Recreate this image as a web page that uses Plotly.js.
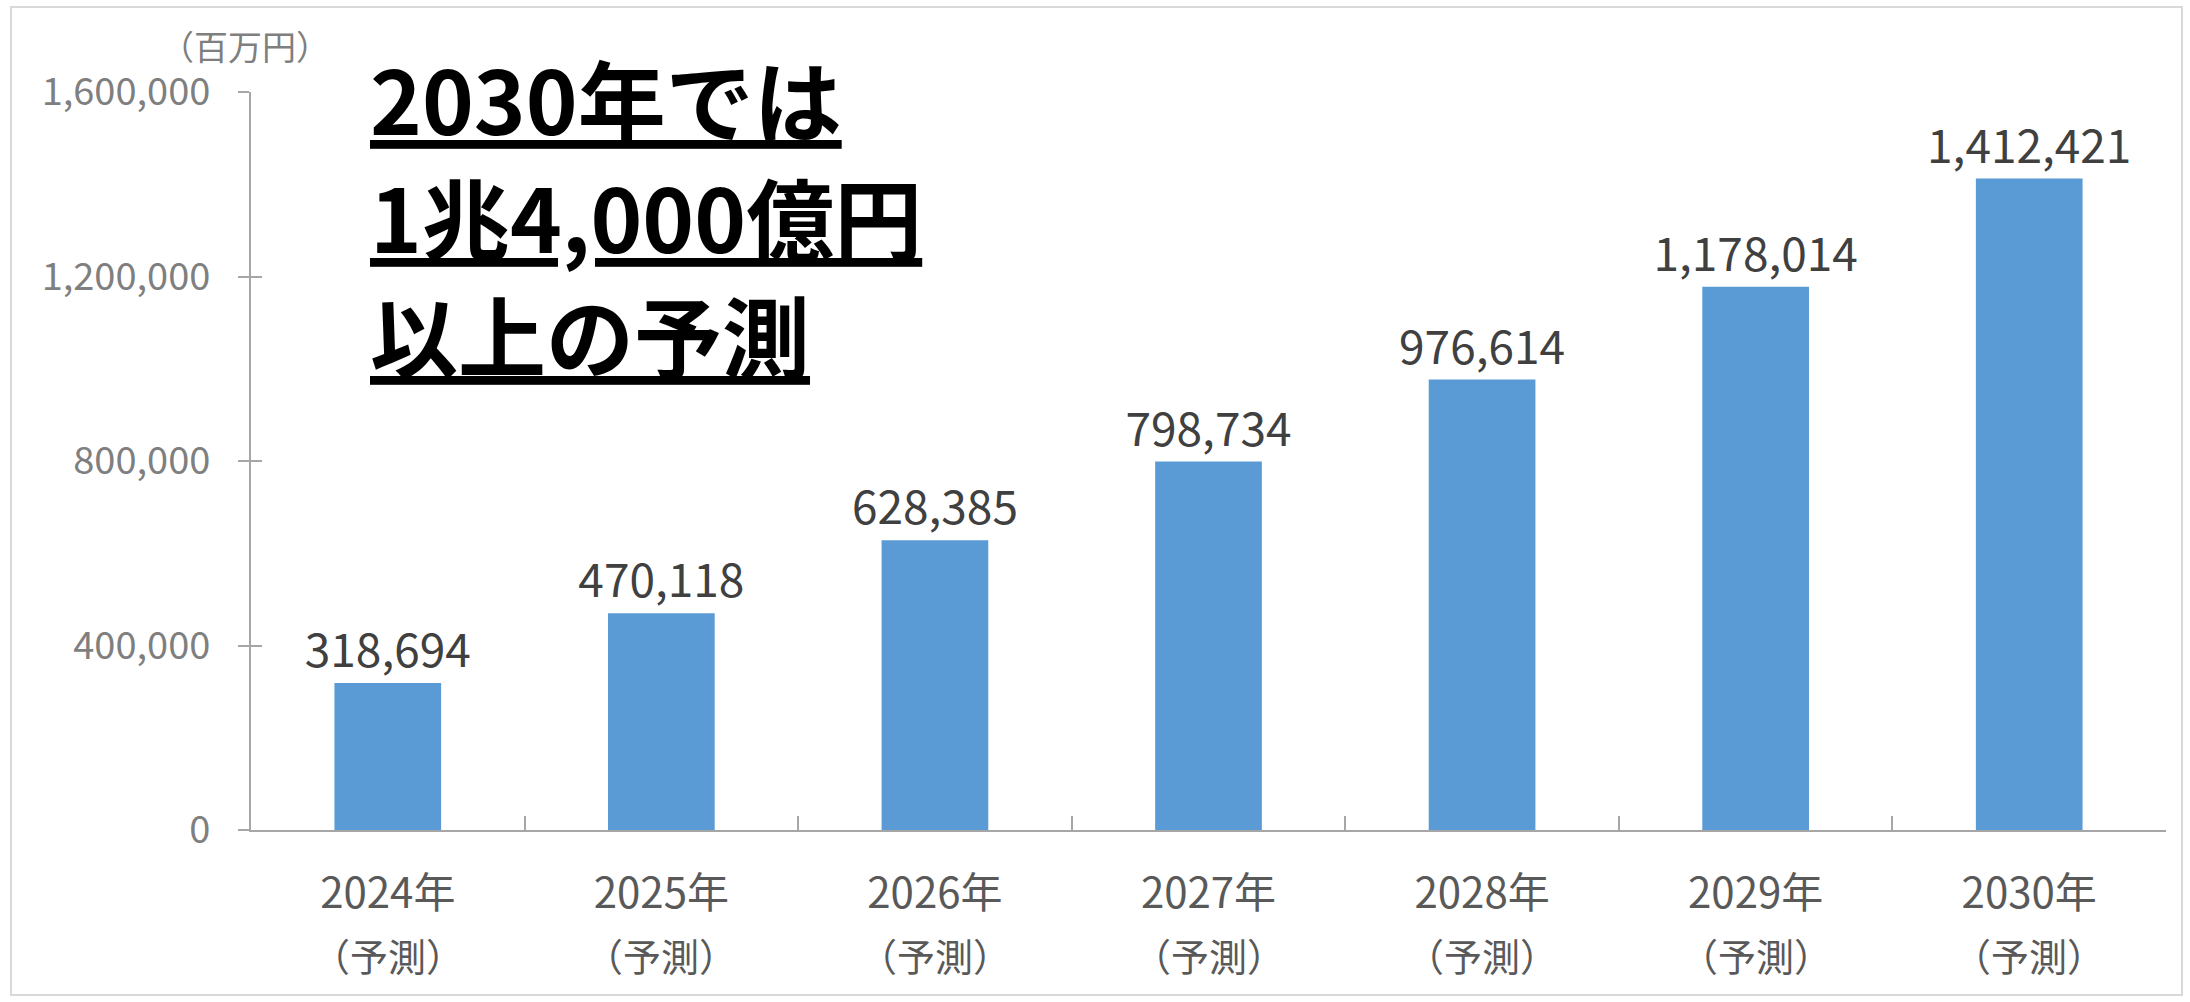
<!DOCTYPE html>
<html>
<head>
<meta charset="utf-8">
<script src="https://cdn.plot.ly/plotly-3.0.1.min.js"></script>
<style>html,body{margin:0;padding:0;background:#fff;}#chart{width:2190px;height:1002px;}</style>
</head>
<body>
<div id="chart"></div>
<script>
const years = ["2024年", "2025年", "2026年", "2027年", "2028年", "2029年", "2030年"];
const subLabel = "（予測）";
const values = [318694, 470118, 628385, 798734, 976614, 1178014, 1412421];
const yTickVals = [0, 400000, 800000, 1200000, 1600000];
const unitLabel = "（百万円）";
const headline = ["2030年では", "1兆4,000億円", "以上の予測"];

const W = 2190, H = 1002;
const L = 251, R = 24, T = 92, B = 172;
const pw = W - L - R, ph = H - T - B;
const px = v => (v - L) / pw;
const py = v => (H - B - v) / ph;

const fontJP = '"Noto Sans CJK JP", "Noto Sans", sans-serif';

const traces = [{
  type: 'bar',
  x: years,
  y: values,
  marker: {color: '#5B9BD5'},
  text: values.map(v => v.toLocaleString('en-US')),
  textposition: 'outside',
  constraintext: 'none',
  cliponaxis: false,
  textfont: {family: fontJP, size: 46, color: '#404040'},
  hoverinfo: 'skip'
}, {
  type: 'scatter', x: [], y: [], yaxis: 'y2', showlegend: false, hoverinfo: 'skip'
}];

const headlineY = [97, 214, 332];
const annotations = headline.map((t, i) => ({
  xref: 'paper', yref: 'paper', x: px(368), y: py(headlineY[i]),
  xanchor: 'left', yanchor: 'middle', showarrow: false,
  text: '<b><u>' + t + '</u></b>',
  font: {family: fontJP, size: 88, color: '#000000'}
}));
annotations.push({
  xref: 'paper', yref: 'paper', x: px(245), y: py(46),
  xanchor: 'center', yanchor: 'middle', showarrow: false,
  text: unitLabel,
  font: {family: fontJP, size: 34, color: '#7f7f7f'}
});
years.forEach(y => annotations.push({
  xref: 'x', yref: 'paper', x: y, y: py(954),
  xanchor: 'center', yanchor: 'middle', showarrow: false,
  text: subLabel,
  font: {family: fontJP, size: 38, color: '#595959'}
}));

const layout = {
  width: W, height: H,
  margin: {l: L, r: R, t: T, b: B, pad: 0},
  paper_bgcolor: '#ffffff', plot_bgcolor: '#ffffff',
  showlegend: false,
  bargap: 0.61,
  xaxis: {
    type: 'category',
    showline: true, linecolor: '#a6a6a6', linewidth: 2,
    showgrid: false, zeroline: false,
    ticks: 'inside', tickson: 'boundaries', ticklen: 14, tickcolor: '#a6a6a6', tickwidth: 2,
    ticklabelstandoff: 26,
    tickfont: {family: fontJP, size: 42, color: '#595959'}
  },
  yaxis: {
    range: [0, 1600000],
    tickvals: yTickVals,
    tickformat: ',d',
    showline: true, linecolor: '#a6a6a6', linewidth: 2,
    showgrid: false, zeroline: false,
    ticks: 'outside', ticklen: 11, tickcolor: '#a6a6a6', tickwidth: 2,
    ticklabelstandoff: 20,
    tickfont: {family: fontJP, size: 38, color: '#7f7f7f'}
  },
  yaxis2: {
    overlaying: 'y', side: 'left',
    range: [0, 1600000],
    tickvals: yTickVals,
    showticklabels: false, showline: false, showgrid: false, zeroline: false,
    ticks: 'inside', ticklen: 11, tickcolor: '#a6a6a6', tickwidth: 2
  },
  annotations: annotations,
  shapes: [{
    type: 'rect', xref: 'paper', yref: 'paper',
    x0: px(11), x1: px(2182), y0: py(995), y1: py(7),
    line: {color: '#d9d9d9', width: 2}, fillcolor: 'rgba(0,0,0,0)', layer: 'below'
  }]
};

Plotly.newPlot('chart', traces, layout, {staticPlot: true, displayModeBar: false});
</script>
</body>
</html>
